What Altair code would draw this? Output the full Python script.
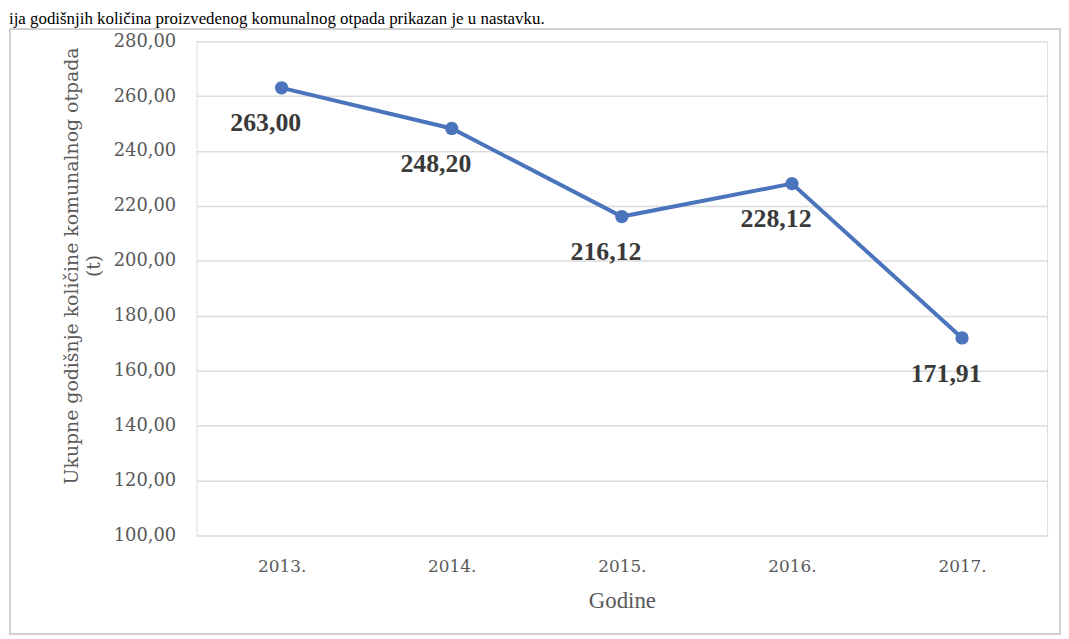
import altair as alt
import pandas as pd

# Data
years = ["2013.", "2014.", "2015.", "2016.", "2017."]
values = [263.00, 248.20, 216.12, 228.12, 171.91]
y_ticks = [100, 120, 140, 160, 180, 200, 220, 240, 260, 280]

top_text = "ija godišnjih količina proizvedenog komunalnog otpada prikazan je u nastavku."
y_title = ["Ukupne godišnje količine komunalnog otpada", "(t)"]
x_title = "Godine"

df = pd.DataFrame({"year": years, "value": values})

W, H = 857, 498
LINE_COLOR = "#4a74bb"
AXIS_FONT = "DejaVu Serif"
SERIF = "Liberation Serif"

x_enc = alt.X(
    "year:N",
    sort=years,
    scale=alt.Scale(type="point", padding=0.5),
    axis=alt.Axis(
        title=x_title,
        titleFont=SERIF,
        titleFontSize=23,
        titleFontWeight="normal",
        titleColor="#595959",
        titleY=66,
        titleBaseline="middle",
        labelFont=AXIS_FONT,
        labelFontSize=17,
        labelColor="#595959",
        labelAngle=0,
        labelBaseline="middle",
        labelPadding=31,
        ticks=False,
        tickSize=0,
        domain=False,
        grid=False,
    ),
)

y_enc = alt.Y(
    "value:Q",
    scale=alt.Scale(domain=[100, 280], nice=False, zero=False),
    axis=alt.Axis(
        title=y_title,
        titleFont=AXIS_FONT,
        titleFontSize=19,
        titleFontWeight="normal",
        titleColor="#595959",
        titleAngle=-90,
        titleX=-126,
        titleY=226,
        titleBaseline="middle",
        titleAlign="center",
        titleLineHeight=22,
        values=y_ticks,
        labelExpr="replace(format(datum.value, '.2f'), '.', ',')",
        labelFont=AXIS_FONT,
        labelFontSize=18,
        labelColor="#595959",
        labelPadding=21,
        ticks=False,
        tickSize=0,
        domain=False,
        grid=True,
        gridColor="#dcdcdc",
        gridWidth=1.5,
    ),
)

base = alt.Chart(df)

line = base.mark_line(color=LINE_COLOR, strokeWidth=4).encode(x=x_enc, y=y_enc)
points = base.mark_point(filled=True, color=LINE_COLOR, size=180, opacity=1).encode(
    x=alt.X("year:N", sort=years), y="value:Q"
)
labels = (
    base.transform_calculate(lbl="replace(format(datum.value, '.2f'), '.', ',')")
    .mark_text(
        font=SERIF,
        fontSize=26,
        fontWeight="bold",
        color="#3a3a3a",
        dx=-16,
        dy=36,
        align="center",
        baseline="middle",
    )
    .encode(x=alt.X("year:N", sort=years), y="value:Q", text="lbl:N")
)

# decorative frame and caption line above the chart
frame = base.mark_rect(
    fill=None, stroke="#cfcfcf", strokeWidth=1.5
).encode(
    x=alt.value(-188), x2=alt.value(870), y=alt.value(-12), y2=alt.value(597)
)
caption = base.mark_text(
    text=top_text, font=SERIF, fontSize=17, color="#000000", align="left", baseline="alphabetic"
).encode(x=alt.value(-189), y=alt.value(-17))

chart = (
    alt.layer(frame, line, points, labels, caption.transform_filter("datum.year == '2013.'"))
    .properties(
        width=W,
        height=H,
        autosize=alt.AutoSizeParams(type="none"),
        padding={"left": 190, "top": 31, "right": 14, "bottom": 102},
    )
    .configure_view(stroke="transparent", strokeWidth=0, strokeOpacity=0)
    .configure(background="white")
)

chart.save("out.html", embed_options={"renderer": "svg", "actions": False})
